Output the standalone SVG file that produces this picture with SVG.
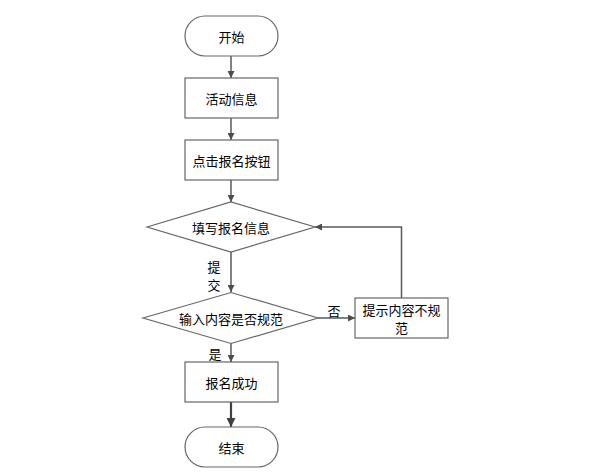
<svg xmlns="http://www.w3.org/2000/svg" width="614" height="475" viewBox="0 0 614 475">
<style>
.s{fill:#fff;stroke:#666;stroke-width:1.2}
.t{font-family:"Noto Sans CJK SC","Liberation Sans",sans-serif;font-size:13px;fill:#000;text-anchor:middle;dominant-baseline:central}
.e{fill:none;stroke:#595959;stroke-width:1.5}
</style>
<defs>
<marker id="a" viewBox="0 0 10 10" refX="10" refY="5" markerWidth="7" markerHeight="7" markerUnits="userSpaceOnUse" orient="auto"><path d="M0,0 L10,5 L0,10 z" fill="#4d4d4d"/></marker>
<marker id="a2" viewBox="0 0 10 10" refX="10" refY="5" markerWidth="9" markerHeight="9" markerUnits="userSpaceOnUse" orient="auto"><path d="M0,0 L10,5 L0,10 z" fill="#404040"/></marker>
</defs>
<rect width="614" height="475" fill="#fff"/>
<g id="connectors">
<path class="e" d="M231,56 V78" marker-end="url(#a)"/>
<path class="e" d="M231,118 V140" marker-end="url(#a)"/>
<path class="e" d="M231,180 V202" marker-end="url(#a)"/>
<path class="e" d="M231,252 V292" marker-end="url(#a)"/>
<path class="e" d="M318,318 H355" marker-end="url(#a)"/>
<path class="e" d="M401.5,298 V227 H315" marker-end="url(#a)"/>
<path class="e" d="M231,343 V362" marker-end="url(#a)"/>
<path d="M231,402 V427" fill="none" stroke="#404040" stroke-width="2.2" marker-end="url(#a2)"/>
<text class="t" x="214" y="266">提</text>
<text class="t" x="214" y="284">交</text>
<text class="t" x="334" y="310">否</text>
<text class="t" x="215" y="353">是</text>
</g>
<g id="start"><rect class="s" x="185" y="16" width="93" height="40" rx="20"/><text class="t" x="231.5" y="36">开始</text></g>
<g id="activity"><rect class="s" x="185" y="78" width="93" height="40"/><text class="t" x="231.5" y="98">活动信息</text></g>
<g id="click"><rect class="s" x="185" y="140" width="93" height="40"/><text class="t" x="231.5" y="160">点击报名按钮</text></g>
<g id="fill"><path class="s" d="M147,227 L231,202 L315,227 L231,252 Z"/><text class="t" x="231" y="227">填写报名信息</text></g>
<g id="check"><path class="s" d="M143,318 L231,292.5 L318,318 L231,343.5 Z"/><text class="t" x="231" y="318">输入内容是否规范</text></g>
<g id="hint"><rect class="s" x="355" y="298" width="93" height="40"/><text class="t" x="401.5" y="309">提示内容不规</text><text class="t" x="401.5" y="327">范</text></g>
<g id="success"><rect class="s" x="185" y="362" width="93" height="40"/><text class="t" x="231.5" y="382">报名成功</text></g>
<g id="end"><rect class="s" x="185" y="427" width="93" height="40" rx="20"/><text class="t" x="231.5" y="447">结束</text></g>
</svg>
